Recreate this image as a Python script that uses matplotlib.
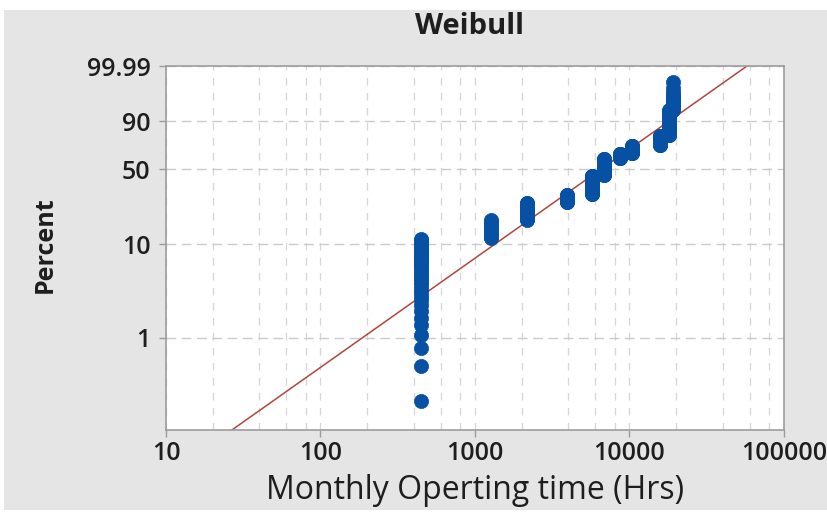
import numpy as np
import matplotlib
matplotlib.use("Agg")
import matplotlib.pyplot as plt
from matplotlib.patches import Rectangle
from matplotlib.ticker import FixedLocator, FixedFormatter, LogLocator, NullFormatter

plt.rcParams['font.family'] = ['Open Sans', 'DejaVu Sans']

# Observed monthly operating times (hours) and how many units share each value
hours = [450, 1260, 2160, 3930, 5690, 6840, 8690, 10380, 15740, 18000, 19000]
counts = [39, 21, 29, 16, 48, 51, 16, 25, 29, 52, 16]

# Fitted Weibull parameters for the reference line
shape = 1.189
scale = 8900.0

y_ticks = [1, 10, 50, 90, 99.99]
y_labels = ['1', '10', '50', '90', '99.99']
x_ticks = [10, 100, 1000, 10000, 100000]
x_labels = ['10', '100', '1000', '10000', '100000']

# Expand tied values into individual observations, ranked with Bernard's median ranks
times = np.repeat(np.array(hours, dtype=float), counts)
n = len(times)
ranks = np.arange(1, n + 1)
pct = (ranks - 0.3) / (n + 0.4) * 100.0


def weib_fwd(p):
    p = np.clip(np.asarray(p, dtype=float), 1e-9, 100 - 1e-9)
    return np.log(-np.log(1.0 - p / 100.0))


def weib_inv(u):
    u = np.asarray(u, dtype=float)
    return 100.0 * (1.0 - np.exp(-np.exp(u)))


W, H = 828, 519
fig = plt.figure(figsize=(W / 100, H / 100), dpi=100)
fig.patch.set_facecolor('white')
fig.patches.append(Rectangle((4 / W, 1 - 510 / H), (W - 4) / W, 500 / H,
                             transform=fig.transFigure, facecolor='#e5e5e5',
                             edgecolor='none', zorder=-10))

ax = fig.add_axes([166 / W, 1 - 430 / H, (784 - 166) / W, (430 - 66) / H])
ax.set_zorder(1)
ax.set_facecolor('white')
ax.set_xscale('log')
ax.set_yscale('function', functions=(weib_fwd, weib_inv))
ax.set_xlim(10, 100000)
ax.set_ylim(0.1, 99.99)

# grid
ax.xaxis.set_major_locator(FixedLocator(x_ticks))
ax.xaxis.set_major_formatter(FixedFormatter(x_labels))
ax.xaxis.set_minor_locator(LogLocator(base=10, subs=(2, 4, 6, 8)))
ax.xaxis.set_minor_formatter(NullFormatter())
ax.yaxis.set_major_locator(FixedLocator(y_ticks))
ax.yaxis.set_major_formatter(FixedFormatter(y_labels))
ax.yaxis.set_minor_locator(FixedLocator([]))

ax.grid(True, axis='x', which='both', color='#d6d6d6', linewidth=0.9,
        linestyle=(0, (6, 6)), zorder=0)
ax.grid(True, axis='y', which='major', color='#cbcbcb', linewidth=1.0,
        linestyle=(0, (7, 4)), zorder=0)
ax.set_axisbelow(True)

# fitted line
xl = np.geomspace(10, 100000, 300)
pl = 100.0 * (1.0 - np.exp(-(xl / scale) ** shape))
ax.plot(xl, pl, color='#b3453d', linewidth=1.1, zorder=2)

# data points
ax.plot(times, pct, linestyle='none', marker='o', markersize=10.2,
        markerfacecolor='#0751a4', markeredgecolor='#0751a4',
        markeredgewidth=0.5, zorder=3)

for s in ax.spines.values():
    s.set_color('#9c9c9c')
    s.set_linewidth(1.2)

ax.tick_params(axis='both', which='major', direction='out', length=5, width=1,
               color='#9c9c9c', labelcolor='#1e1e1e', labelsize=18)
ax.tick_params(axis='x', which='major', pad=3)
ax.tick_params(axis='y', which='major', pad=6)
ax.tick_params(axis='both', which='minor', length=0)
for lab in ax.get_xticklabels() + ax.get_yticklabels():
    lab.set_fontweight('semibold')

ax.set_xlabel('Monthly Operting time (Hrs)', fontsize=23, color='#1e1e1e',
              labelpad=6, fontweight='medium')
fig.text(45 / W, 1 - 245 / H, 'Percent', rotation=90, ha='center', va='center',
         fontsize=18, fontweight='bold', color='#1e1e1e')
fig.text(470 / W, 1 - 26 / H, 'Weibull', ha='center', va='center',
         fontsize=21, fontweight='bold', color='#1e1e1e')

fig.savefig('out.png', dpi=100, facecolor=fig.get_facecolor())
